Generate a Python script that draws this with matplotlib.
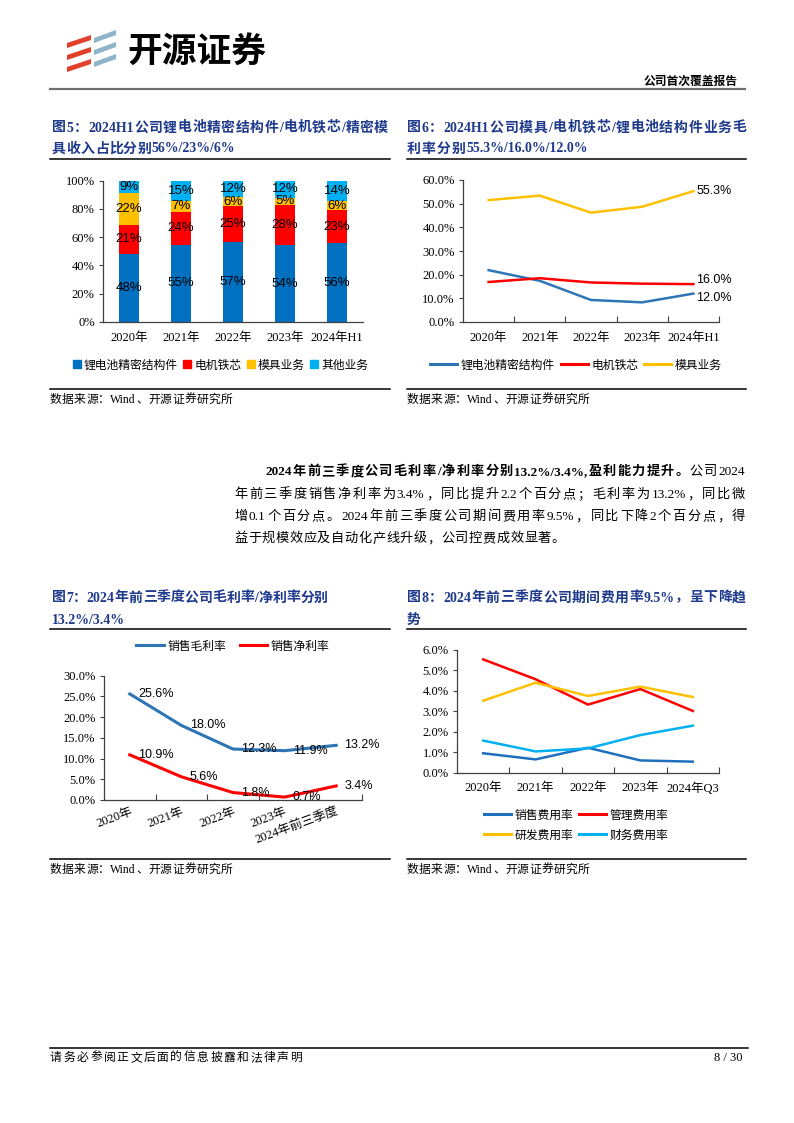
#!/usr/bin/env python3

import re

import matplotlib

matplotlib.use("Agg")
import matplotlib.pyplot as plt
import numpy as np
from matplotlib.legend import Legend
from matplotlib.lines import Line2D
from matplotlib.patches import Polygon

W, H = 794, 1123

SERIF = ["Liberation Serif", "Noto Sans CJK SC"]
SANS = ["Liberation Sans", "Noto Sans CJK SC"]
CJK = ["Noto Sans CJK SC", "DejaVu Sans"]
NAVY = "#1F3A8C"
AXIS = "#404040"

# 图5 收入占比 (%)
years5 = ["2020年", "2021年", "2022年", "2023年", "2024年H1"]
batteryShare = [48.0, 54.6, 56.6, 54.2, 55.8]
motorShare = [20.9, 23.5, 25.4, 28.4, 23.4]
moldShare = [22.4, 7.4, 6.2, 5.4, 6.4]
otherShare = [8.7, 14.6, 11.8, 12.0, 14.4]

# 图6 毛利率 (%)
years6 = ["2020年", "2021年", "2022年", "2023年", "2024年H1"]
batteryMargin = [21.9, 17.4, 9.3, 8.3, 12.0]
motorMargin = [16.9, 18.5, 16.7, 16.2, 16.0]
moldMargin = [51.5, 53.4, 46.2, 48.7, 55.3]

# 图7 毛利率/净利率 (%)
years7 = ["2020年", "2021年", "2022年", "2023年", "2024年前三季度"]
grossMargin = [25.6, 18.0, 12.3, 11.9, 13.2]
netMargin = [10.9, 5.6, 1.8, 0.7, 3.4]

# 图8 期间费用率 (%)
years8 = ["2020年", "2021年", "2022年", "2023年", "2024年Q3"]
sellingRate = [0.95, 0.65, 1.22, 0.60, 0.54]
adminRate = [5.54, 4.57, 3.33, 4.09, 3.02]
rdRate = [3.52, 4.40, 3.75, 4.21, 3.70]
financeRate = [1.57, 1.04, 1.19, 1.84, 2.30]


def PixelAxes(fig, left, top, right, bottom):
    return fig.add_axes([left / W, 1 - bottom / H, (right - left) / W, (bottom - top) / H])


def Justified(page, renderer, pieces, x0, x1, y, size, color="black"):
    items = []
    for text, weight in pieces:
        for token in re.findall(r"[A-Za-z0-9.%/,]+|\S", text):
            items.append((token, weight))

    artists = [
        page.text(0, y, token, fontsize=size, fontweight=weight, family=SERIF,
                  color=color, va="center", ha="left")
        for token, weight in items
    ]
    widths = [a.get_window_extent(renderer).width for a in artists]
    gap = (x1 - x0 - sum(widths)) / max(len(artists) - 1, 1)

    x = x0
    for artist, width in zip(artists, widths):
        artist.set_x(x)
        x += width + gap


def StyleAxes(ax, labels, ylim, step, fmt, rotate=False, boundaryTicks=True):
    ax.set_xlim(-0.5, len(labels) - 0.5)
    ax.set_ylim(0, ylim)
    ticks = np.arange(0, ylim + step / 2, step)
    ax.set_yticks(ticks)
    ax.set_yticklabels([fmt.format(v) for v in ticks], family=SERIF, fontsize=9)
    ax.set_xticks(range(len(labels)))
    if rotate:
        ax.set_xticklabels(labels, family=SERIF, fontsize=9, rotation=20,
                           ha="right", rotation_mode="anchor")
    else:
        ax.set_xticklabels(labels, family=SERIF, fontsize=9)
    if boundaryTicks:
        ax.set_xticks(np.arange(0.5, len(labels), 1), minor=True)
        ax.tick_params(axis="x", which="minor", direction="in", length=4,
                       color=AXIS, width=0.8)
    ax.tick_params(axis="x", which="major", length=0, pad=7)
    ax.tick_params(axis="y", length=3, width=0.8, color=AXIS, pad=3)
    for side in ("top", "right"):
        ax.spines[side].set_visible(False)
    for side in ("left", "bottom"):
        ax.spines[side].set_color(AXIS)
        ax.spines[side].set_linewidth(0.9)
    ax.set_facecolor("none")


def PageLegend(page, handles, names, center, ncol, **kw):
    opts = dict(handlelength=2.3, handletextpad=0.3, columnspacing=0.5)
    opts.update(kw)
    legend = Legend(page, handles, names, loc="center", bbox_to_anchor=center,
                    bbox_transform=page.transData, ncol=ncol, frameon=False,
                    prop={"family": CJK, "size": 8.5}, **opts)
    page.add_artist(legend)


def LineLegend(page, entries, center, ncol, **kw):
    handles = [Line2D([], [], color=c, lw=2.2) for _, c in entries]
    PageLegend(page, handles, [n for n, _ in entries], center, ncol, **kw)


def Main():
    fig = plt.figure(figsize=(W / 100, H / 100), dpi=100)
    renderer = fig.canvas.get_renderer()

    page = fig.add_axes([0, 0, 1, 1])
    page.set_xlim(0, W)
    page.set_ylim(H, 0)
    page.axis("off")

    # header
    for i in range(3):
        b = 38 + 12 * i
        page.add_patch(Polygon([(67, b + 5), (91, b - 3), (91, b + 2), (67, b + 10)],
                               closed=True, color="#E0402A", lw=0))
        b = 33 + 12 * i
        page.add_patch(Polygon([(94, b + 5), (116, b - 3), (116, b + 2), (94, b + 10)],
                               closed=True, color="#8FB4C9", lw=0))
    page.text(127, 51, "开源证券", fontsize=25, fontweight="bold", family=CJK,
              va="center", ha="left")
    page.text(738, 81, "公司首次覆盖报告", fontsize=8.5, fontweight="bold", family=CJK,
              va="center", ha="right")
    page.plot([50, 745], [88.5, 88.5], color="#707070", lw=1.6)

    # titles / rules / sources
    Justified(page, renderer, [("图5：2024H1  公司锂电池精密结构件/电机铁芯/精密模", "bold")],
              52, 388, 128, 10, NAVY)
    Justified(page, renderer, [("具收入占比分别 56%/23%/6%", "bold")], 52, 235, 149, 10, NAVY)
    Justified(page, renderer, [("图6：2024H1  公司模具/电机铁芯/锂电池结构件业务毛", "bold")],
              407, 746, 128, 10, NAVY)
    Justified(page, renderer, [("利率分别 55.3%/16.0%/12.0%", "bold")], 407, 588, 149, 10, NAVY)
    Justified(page, renderer, [("图7：2024 年前三季度公司毛利率/净利率分别", "bold")],
              52, 328, 598, 10, NAVY)
    page.text(52, 620, "13.2%/3.4%", fontsize=10, fontweight="bold", family=SERIF,
              color=NAVY, va="center")
    Justified(page, renderer, [("图8：2024 年前三季度公司期间费用率 9.5%，呈下降趋", "bold")],
              407, 746, 598, 10, NAVY)
    page.text(407, 620, "势", fontsize=10, fontweight="bold", family=SERIF,
              color=NAVY, va="center")

    for y in (159, 389, 629, 859):
        page.plot([50, 390], [y, y], color="black", lw=1.1)
        page.plot([407, 746], [y, y], color="black", lw=1.1)
    for x0, y in ((50, 400), (407, 400), (50, 870), (407, 870)):
        Justified(page, renderer, [("数据来源：Wind、开源证券研究所", "normal")],
                  x0, x0 + 182, y, 8.5)

    # paragraph
    Justified(page, renderer,
              [("2024 年前三季度公司毛利率/净利率分别 13.2%/3.4%,盈利能力提升。", "bold"),
               ("公司 2024", "normal")], 265, 745, 472, 9.5)
    Justified(page, renderer,
              [("年前三季度销售净利率为 3.4%，同比提升 2.2 个百分点；毛利率为 13.2%，同比微", "normal")],
              234, 745, 495, 9.5)
    Justified(page, renderer,
              [("增 0.1 个百分点。2024 年前三季度公司期间费用率 9.5%，同比下降 2 个百分点，得", "normal")],
              234, 745, 517, 9.5)
    Justified(page, renderer, [("益于规模效应及自动化产线升级，公司控费成效显著。", "normal")],
              234, 565, 539, 9.5)

    # footer
    page.plot([50, 748], [1048, 1048], color="black", lw=1.1)
    Justified(page, renderer, [("请务必参阅正文后面的信息披露和法律声明", "normal")],
              50, 302, 1058, 8.5)
    page.text(743, 1058, "8 / 30", fontsize=9, family=SERIF, va="center", ha="right")

    # 图5
    ax5 = PixelAxes(fig, 103, 180.7, 363, 322)
    x = np.arange(len(years5))
    bottom = np.zeros(len(years5))
    series5 = [
        ("锂电池精密结构件", batteryShare, "#0070C0"),
        ("电机铁芯", motorShare, "#FF0000"),
        ("模具业务", moldShare, "#FFC000"),
        ("其他业务", otherShare, "#00B0F0"),
    ]
    for name, values, color in series5:
        bars = ax5.bar(x, values, 0.4, bottom=bottom, color=color, label=name)
        ax5.bar_label(bars, labels=[f"{v:.0f}%" for v in values], label_type="center",
                      fontsize=9.5, family=SANS)
        bottom += np.array(values)
    StyleAxes(ax5, years5, 100, 20, "{:.0f}%", boundaryTicks=False)
    handles = [Line2D([], [], marker="s", ls="none", color=c, markersize=5.5)
               for _, _, c in series5]
    PageLegend(page, handles, [n for n, _, _ in series5], (220, 365), 4,
               handlelength=0.8, handletextpad=0.2, columnspacing=0.4)

    # 图6
    ax6 = PixelAxes(fig, 463, 180, 719, 322)
    series6 = [
        ("锂电池精密结构件", batteryMargin, "#2E75B6", -3),
        ("电机铁芯", motorMargin, "#FF0000", 3),
        ("模具业务", moldMargin, "#FFC000", 0),
    ]
    for name, values, color, dy in series6:
        ax6.plot(range(len(values)), values, color=color, lw=1.8)
        ax6.annotate(f"{values[-1]:.1f}%", (len(values) - 1, values[-1]), xytext=(2, dy),
                     textcoords="offset points", va="center", ha="left",
                     fontsize=9, family=SANS)
    StyleAxes(ax6, years6, 60, 10, "{:.1f}%")
    LineLegend(page, [(n, c) for n, _, c, _ in series6], (576, 365), 3)

    # 图7
    ax7 = PixelAxes(fig, 104, 675.7, 362, 800)
    series7 = [
        ("销售毛利率", grossMargin, "#2E75B6"),
        ("销售净利率", netMargin, "#FF0000"),
    ]
    for name, values, color in series7:
        ax7.plot(range(len(values)), values, color=color, lw=2.2)
        for i, v in enumerate(values):
            ax7.annotate(f"{v:.1f}%", (i, v), xytext=(6, 0), textcoords="offset points",
                         va="center", ha="left", fontsize=9, family=SANS)
    StyleAxes(ax7, years7, 30, 5, "{:.1f}%", rotate=True)
    ax7.tick_params(axis="x", which="major", pad=4)
    LineLegend(page, [(n, c) for n, _, c in series7], (233, 646), 2,
               columnspacing=1.2)

    # 图8
    ax8 = PixelAxes(fig, 457, 650, 719, 772.7)
    series8 = [
        ("销售费用率", sellingRate, "#1F6FBF"),
        ("管理费用率", adminRate, "#FF0000"),
        ("研发费用率", rdRate, "#FFC000"),
        ("财务费用率", financeRate, "#00B0F0"),
    ]
    for name, values, color in series8:
        ax8.plot(range(len(values)), values, color=color, lw=1.8)
    StyleAxes(ax8, years8, 6, 1, "{:.1f}%")
    order = [0, 2, 1, 3]
    LineLegend(page, [(series8[i][0], series8[i][2]) for i in order], (576, 825), 2,
               labelspacing=0.6)

    fig.savefig("out.png", dpi=100)


if __name__ == "__main__":
    Main()
